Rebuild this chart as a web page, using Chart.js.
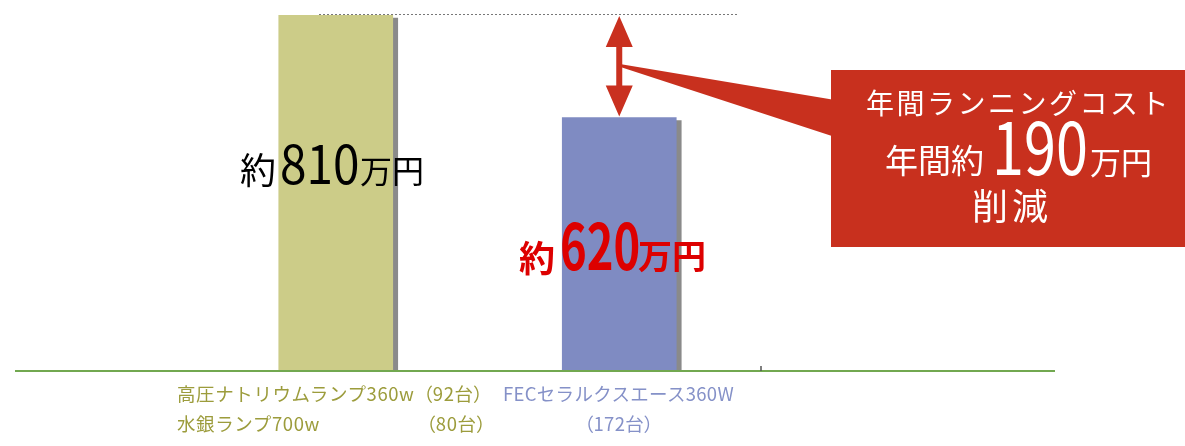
<!DOCTYPE html>
<html lang="ja">
<head>
<meta charset="UTF-8">
<title>年間ランニングコスト比較</title>
<style>
    body {
        margin: 0;
        background: #fff;
        font-family: "Noto Sans CJK JP", sans-serif;
    }
    #wrap {
        position: relative;
        width: 1185px;
        height: 446px;
        overflow: hidden;
    }
    #chart {
        position: absolute;
        left: 0;
        top: 0;
    }
    .txt {
        position: absolute;
        line-height: 1;
        white-space: nowrap;
        transform-origin: 0 100%;
    }
</style>
</head>
<body>
<div id="wrap">
    <canvas id="chart" width="1185" height="446"></canvas>
</div>

<script src="https://cdn.jsdelivr.net/npm/chart.js"></script>
<script>
// data (万円 / 年)
const categories = ['高圧ナトリウムランプ360w・水銀ランプ700w', 'FECセラルクスエース360W'];
const costValues = [810, 620];
const barColors = ['#CCCC88', '#7F8BC2'];
const labelColors = ['#9C9C3C', '#8591C8'];
const unitCounts = [[92, 80], [172]];

const wrap = document.getElementById('wrap');

// bar shadow (solid grey, offset down-right)
const shadowPlugin = {
    id: 'barShadow',
    beforeDatasetDraw(chart) {
        const c = chart.ctx;
        c.save();
        c.shadowColor = '#8a8a8a';
        c.shadowOffsetX = 5;
        c.shadowOffsetY = 3;
        c.shadowBlur = 0;
    },
    afterDatasetDraw(chart) {
        chart.ctx.restore();
    }
};

// axis line, reference line, arrow and callout
const decorPlugin = {
    id: 'decor',
    afterDatasetsDraw(chart) {
        const c = chart.ctx;
        const area = chart.chartArea;
        const y = chart.scales.y;
        const bar2 = chart.getDatasetMeta(0).data[1];
        const yHigh = y.getPixelForValue(costValues[0]);
        const yLow = y.getPixelForValue(costValues[1]);

        c.save();
        // green base line
        c.strokeStyle = '#72a850';
        c.lineWidth = 2;
        c.beginPath();
        c.moveTo(15, area.bottom);
        c.lineTo(1055, area.bottom);
        c.stroke();
        // small tick at the end of the category axis
        c.strokeStyle = '#555';
        c.lineWidth = 1.5;
        c.beginPath();
        c.moveTo(area.right, area.bottom - 5);
        c.lineTo(area.right, area.bottom);
        c.stroke();

        // dotted line at the top value
        c.strokeStyle = '#777';
        c.lineWidth = 1;
        c.setLineDash([2, 2]);
        c.beginPath();
        c.moveTo(319, yHigh - 0.5);
        c.lineTo(739, yHigh - 0.5);
        c.stroke();
        c.setLineDash([]);

        // double arrow between the two bar tops
        const red = '#C9301F';
        const ax = bar2.x;
        const top = yHigh + 1, bot = yLow - 1;
        const hw = 13.5, hl = 31, sw = 3;
        c.fillStyle = red;
        c.beginPath();
        c.moveTo(ax, top);
        c.lineTo(ax + hw, top + hl);
        c.lineTo(ax + sw, top + hl);
        c.lineTo(ax + sw, bot - hl);
        c.lineTo(ax + hw, bot - hl);
        c.lineTo(ax, bot);
        c.lineTo(ax - hw, bot - hl);
        c.lineTo(ax - sw, bot - hl);
        c.lineTo(ax - sw, top + hl);
        c.lineTo(ax - hw, top + hl);
        c.closePath();
        c.fill();

        // callout pointer and box
        const mid = (top + bot) / 2;
        c.fillStyle = '#C8301E';
        c.beginPath();
        c.moveTo(ax + 2, mid - 2);
        c.lineTo(835, 100);
        c.lineTo(835, 137);
        c.lineTo(ax + 2, mid + 1);
        c.closePath();
        c.fill();
        c.fillRect(831, 70, 354, 177);
        c.restore();
    }
};

new Chart(document.getElementById('chart').getContext('2d'), {
    type: 'bar',
    data: {
        labels: categories,
        datasets: [{
            data: costValues,
            backgroundColor: barColors,
            borderWidth: 0,
            barThickness: 114
        }]
    },
    options: {
        responsive: false,
        animation: false,
        layout: { padding: { left: 194, right: 424, top: 15, bottom: 75 } },
        plugins: {
            legend: { display: false },
            tooltip: { enabled: false }
        },
        scales: {
            x: { display: false },
            y: { display: false, min: 150, max: 810 }
        }
    },
    plugins: [shadowPlugin, decorPlugin]
});

// text helper: place by baseline
function addText(text, x, baseline, size, style) {
    const s = document.createElement('span');
    s.className = 'txt';
    s.textContent = text;
    s.style.left = x + 'px';
    s.style.top = (baseline - 0.936 * size) + 'px';
    s.style.fontSize = size + 'px';
    Object.assign(s.style, style || {});
    wrap.appendChild(s);
    return s;
}

// value labels on the bars
addText('約', 240, 184, 36, { color: '#000' });
addText(String(costValues[0]), 280, 185, 53, { color: '#000', transform: 'scaleX(0.9)' });
addText('万円', 360, 183, 32, { color: '#000' });

const redBold = { color: '#DD0000', fontWeight: 'bold' };
addText('約', 519, 272, 36, redBold);
addText(String(costValues[1]), 560, 270, 63, Object.assign({ transform: 'scaleX(0.72)' }, redBold));
addText('万円', 638, 270, 34, redBold);

// callout text
const white = { color: '#fff' };
addText('年間ランニングコスト', 866, 114, 28, Object.assign({ letterSpacing: '2.5px' }, white));
addText('年間約', 885, 174, 33, white);
addText(String(costValues[0] - costValues[1]), 992, 175, 72, Object.assign({ transform: 'scaleX(0.8)' }, white));
addText('万円', 1090, 174, 31, white);
addText('削減', 972, 220, 36, Object.assign({ letterSpacing: '4px' }, white));

// category labels under the axis
const olive = { color: labelColors[0], letterSpacing: '0.6px' };
const blue = { color: labelColors[1], letterSpacing: '0.3px' };
const paren = { fontFeatureSettings: '"palt"' };
addText('高圧ナトリウムランプ360w', 177, 401, 18.5, olive);
addText('（' + unitCounts[0][0] + '台）', 423, 401, 18.5, Object.assign({}, olive, paren));
addText('水銀ランプ700w', 177, 431, 18.5, olive);
addText('（' + unitCounts[0][1] + '台）', 426, 431, 18.5, Object.assign({}, olive, paren));
addText('FECセラルクスエース360W', 503, 401, 18.5, blue);
addText('（' + unitCounts[1][0] + '台）', 584, 431, 18.5, Object.assign({}, blue, paren));
</script>
</body>
</html>
